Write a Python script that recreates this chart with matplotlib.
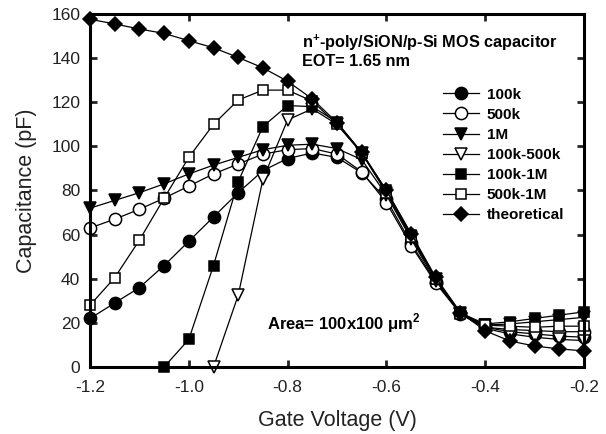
"""C-V curves of an n+-poly/SiON/p-Si MOS capacitor."""
import numpy as np
import matplotlib

matplotlib.use("Agg")
import matplotlib.pyplot as plt

nan = np.nan

voltage = [-1.2, -1.15, -1.1, -1.05, -1.0, -0.95, -0.9, -0.85, -0.8, -0.75, -0.7,
           -0.65, -0.6, -0.55, -0.5, -0.45, -0.4, -0.35, -0.3, -0.25, -0.2]

c_100k = [22, 29, 36, 46, 57, 68, 79, 89, 94.5, 97, 95, 88, 76, 56, 38.5, 24.5,
          18, 16, 15, 14, 13.5]
c_500k = [63, 67, 71.5, 76.5, 82, 87.5, 92, 96.5, 98.5, 99, 96.5, 88.5, 74.5, 55,
          38, 24, 18, 17, 16.5, 16, 16]
c_1m = [72, 75.5, 79, 83, 87.5, 91.5, 95, 98.5, 100.5, 101, 99, 94, 78, 58, 39,
        24.5, 19, 19.5, 20.5, 21.5, 22.5]
c_100k_500k = [nan, nan, nan, nan, nan, 0, 32.5, 85, 112, 117, 110, 97, 79, 59,
               40, 24, 17.5, 15, 13.5, 12.5, 12]
c_100k_1m = [nan, nan, nan, 0, 12.5, 46, 84, 109, 118.5, 118, 111, 97, 80, 60, 40,
             24.5, 19.5, 20.5, 22, 23.5, 25]
c_500k_1m = [28, 40.5, 57.5, 76.5, 95, 110, 121, 125.5, 125.5, 120.5, 110, 97, 79,
             59, 40, 24, 19, 18.5, 18, 18.5, 18.5]
c_theory = [157.6, 155.5, 153.2, 151.2, 147.9, 144.7, 140.3, 135.6, 129.5, 121.5,
            110.8, 97.4, 80, 60.5, 40.6, 24.7, 16.4, 11.8, 9.5, 8.2, 7.3]

labels = ["100k", "500k", "1M", "100k-500k", "100k-1M", "500k-1M", "theoretical"]

plt.rcParams["font.family"] = ["Liberation Sans", "DejaVu Sans"]
plt.rcParams["mathtext.fontset"] = "custom"
plt.rcParams["mathtext.rm"] = "Liberation Sans"
plt.rcParams["mathtext.bf"] = "Liberation Sans:bold"
plt.rcParams["axes.unicode_minus"] = False

fig = plt.figure(figsize=(6.06, 4.34), dpi=100)
ax = fig.add_axes([90 / 606, 1 - 367 / 434, 494 / 606, 353 / 434])

series = [
    (c_100k, "o", "k", 8.8),
    (c_500k, "o", "w", 8.8),
    (c_1m, "v", "k", 9.2),
    (c_100k_500k, "v", "w", 9.2),
    (c_100k_1m, "s", "k", 7.8),
    (c_500k_1m, "s", "w", 7.8),
    (c_theory, "D", "k", 7),
]
for (vals, mk, fc, ms), lab in zip(series, labels):
    ax.plot(voltage, vals, marker=mk, ms=ms, mfc=fc, mec="k", mew=1.1,
            color="k", lw=0.9, label=lab, clip_on=False)

ax.set_xlim(-1.2, -0.2)
ax.set_ylim(0, 160)
ax.set_xticks([-1.2, -1.0, -0.8, -0.6, -0.4, -0.2])
ax.set_yticks(range(0, 161, 20))
ax.tick_params(direction="in", top=True, right=True, length=5, width=2,
               labelsize=12.5, colors="#222222")
ax.tick_params(axis="x", pad=9)
ax.tick_params(axis="y", pad=7)
for s in ax.spines.values():
    s.set_linewidth(2.2)

ax.set_xlabel("Gate Voltage (V)", fontsize=15.5, labelpad=11, color="#222222")
ax.set_ylabel("Capacitance (pF)", fontsize=15.5, labelpad=10, color="#222222")

ax.text(302 / 606, 1 - 43 / 434, r"n$^{\mathbf{+}}$-poly/SiON/p-Si MOS capacitor",
        transform=fig.transFigure, fontsize=11.7, fontweight="bold", va="center")
ax.text(302 / 606, 1 - 62 / 434, "EOT= 1.65 nm", transform=fig.transFigure,
        fontsize=11.7, fontweight="bold", va="center")
ax.text(267 / 606, 1 - 323 / 434, r"Area= 100x100 μm$^{\mathbf{2}}$",
        transform=fig.transFigure, fontsize=12, fontweight="bold", va="center")

ax.legend(loc="upper left", bbox_to_anchor=(435 / 606, 1 - 80 / 434),
          bbox_transform=fig.transFigure, frameon=False, borderpad=0,
          handlelength=2.4, handletextpad=0.5, labelspacing=0.4,
          prop={"weight": "bold", "size": 11})

fig.savefig("out.png", dpi=100)
